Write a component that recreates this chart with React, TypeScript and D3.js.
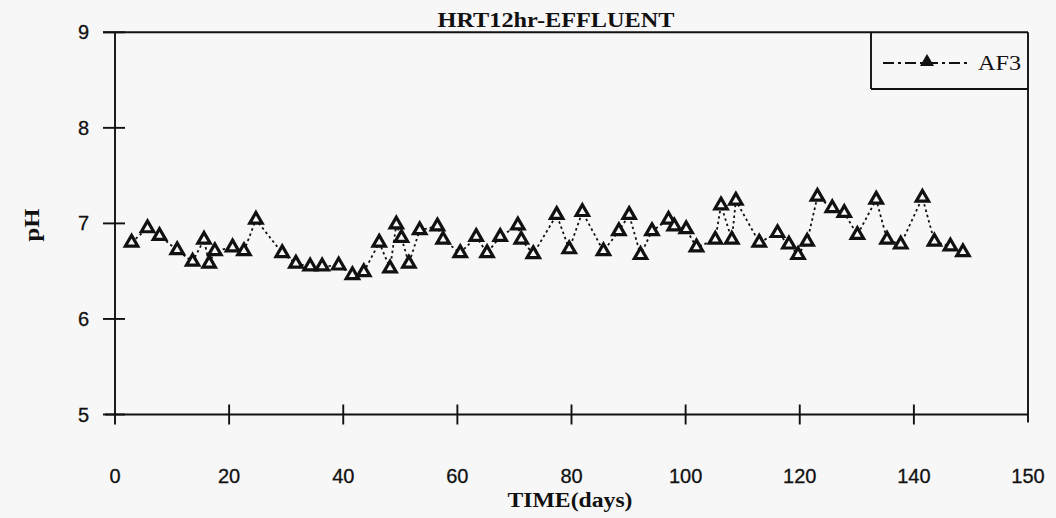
import React from "react";
import * as d3 from "d3";

const days: number[] = [
  2.9, 5.7, 7.8, 10.9, 13.6, 15.6, 16.5, 17.5, 20.6, 22.6, 24.7, 29.3, 31.7, 34.2, 36.3, 39.2,
  41.6, 43.6, 46.3, 48.2, 49.3, 50.2, 51.5, 53.4, 56.5, 57.5, 60.5, 63.3, 65.2, 67.5, 70.6, 71.2,
  73.3, 77.4, 79.6, 81.9, 85.6, 88.3, 90.1, 92.1, 94.1, 97.0, 98.0, 100.1, 101.9, 105.2, 106.2,
  108.1, 108.8, 112.9, 116.1, 118.1, 119.7, 121.3, 123.1, 125.7, 127.8, 130.1, 133.4, 135.3,
  137.7, 141.5, 143.6, 146.4, 148.6,
];
const phAF3: number[] = [
  6.8, 6.95, 6.87, 6.72, 6.6, 6.83, 6.58, 6.71, 6.75, 6.71, 7.04, 6.69, 6.58, 6.55, 6.55, 6.56,
  6.46, 6.49, 6.8, 6.53, 6.99, 6.85, 6.58, 6.93, 6.97, 6.83, 6.69, 6.86, 6.69, 6.86, 6.98, 6.83,
  6.68, 7.09, 6.73, 7.12, 6.71, 6.92, 7.09, 6.67, 6.92, 7.04, 6.97, 6.94, 6.75, 6.83, 7.19,
  6.83, 7.24, 6.8, 6.9, 6.78, 6.67, 6.81, 7.28, 7.16, 7.11, 6.88, 7.25, 6.83,
  6.78, 7.27, 6.81, 6.76, 6.7,
];
const xTickValues: number[] = [0, 20, 40, 60, 80, 100, 120, 140, 160];
const xTickLabels: string[] = ["0", "20", "40", "60", "80", "100", "120", "140", "150"];
const yTickValues: number[] = [5, 6, 7, 8, 9];
const seriesName = "AF3";
const titleText = "HRT12hr-EFFLUENT";
const xLabel = "TIME(days)";
const yLabel = "pH";

export default function App() {
  const W = 1056, H = 518;
  const left = 115, right = 1028, top = 32.3, bottom = 414.5;
  const x = d3.scaleLinear().domain([0, 160]).range([left, right]);
  const y = d3.scaleLinear().domain([5, 9]).range([bottom, top]);
  const pts = days.map((d, i) => [d, phAF3[i]] as [number, number]);
  const line = d3.line<[number, number]>().x(d => x(d[0])).y(d => y(d[1]));
  const tri = d3.symbol().type(d3.symbolTriangle).size(66)() as string;
  const triSmall = d3.symbol().type(d3.symbolTriangle).size(45)() as string;
  const ink = "#111";
  const bg = "#f7f7f7";
  const axisW = 1.9;
  const legX0 = 871, legY1 = 89;
  const sans = "Liberation Sans, Arial, sans-serif";
  const serif = "Liberation Serif, Times New Roman, serif";

  return (
    <div style={{ position: "fixed", left: 0, top: 0, width: W, height: H }}>
      <svg width={W} height={H} viewBox={`0 0 ${W} ${H}`} style={{ display: "block", background: bg }}>
        {/* frame */}
        <line x1={103} x2={right} y1={top} y2={top} stroke={ink} strokeWidth={axisW} />
        <line x1={left} x2={left} y1={top} y2={bottom + 10} stroke={ink} strokeWidth={axisW} />
        <line x1={left - 10} x2={right} y1={bottom} y2={bottom} stroke={ink} strokeWidth={axisW} />
        <line x1={right} x2={right} y1={top} y2={bottom + 8} stroke={ink} strokeWidth={axisW} />
        {/* y ticks */}
        {yTickValues.map(v => (
          <g key={"y" + v}>
            <line x1={left - 12} x2={left + 10} y1={y(v)} y2={y(v)} stroke={ink} strokeWidth={axisW} />
            <text x={89} y={y(v) + 7} textAnchor="end" fontFamily={sans} fontSize={20} fill={ink} stroke={ink} strokeWidth={0.3}>{v}</text>
          </g>
        ))}
        {/* x ticks */}
        {xTickValues.map((v, i) => (
          <g key={"x" + v}>
            {i > 0 && i < xTickValues.length - 1 && (
              <line x1={x(v)} x2={x(v)} y1={bottom - 10} y2={bottom + 10} stroke={ink} strokeWidth={axisW} />
            )}
            <text x={x(v)} y={483} textAnchor="middle" fontFamily={sans} fontSize={20} fill={ink} stroke={ink} strokeWidth={0.3}>{xTickLabels[i]}</text>
          </g>
        ))}
        {/* title & labels */}
        <text x={556} y={27} textAnchor="middle" fontFamily={serif} fontWeight="bold" fontSize={22} textLength={237} lengthAdjust="spacingAndGlyphs" fill={ink}>{titleText}</text>
        <text x={570} y={507} textAnchor="middle" fontFamily={serif} fontWeight="bold" fontSize={20} textLength={125} lengthAdjust="spacingAndGlyphs" fill={ink}>{xLabel}</text>
        <text transform="translate(39,225) rotate(-90)" textAnchor="middle" fontFamily={serif} fontWeight="bold" fontSize={22} textLength={33} lengthAdjust="spacingAndGlyphs" fill={ink}>{yLabel}</text>
        {/* series */}
        <path d={line(pts) || ""} fill="none" stroke={ink} strokeWidth={1.8} strokeDasharray="2.5,3" />
        {pts.map((p, i) => (
          <path key={i} d={tri} transform={`translate(${x(p[0])},${y(p[1])})`} fill={bg} stroke={ink} strokeWidth={3.2} strokeLinejoin="miter" />
        ))}
        {/* legend */}
        <line x1={legX0} x2={legX0} y1={top} y2={legY1} stroke={ink} strokeWidth={axisW} />
        <line x1={legX0} x2={right} y1={legY1} y2={legY1} stroke={ink} strokeWidth={axisW} />
        <line x1={883} x2={967} y1={63} y2={63} stroke={ink} strokeWidth={1.8} strokeDasharray="11,4,3,4" />
        <path d={triSmall} transform="translate(927,62)" fill={ink} stroke={ink} strokeWidth={2.2} />
        <text x={978} y={70} fontFamily={serif} fontSize={20} textLength={43} lengthAdjust="spacingAndGlyphs" fill={ink}>{seriesName}</text>
      </svg>
    </div>
  );
}
